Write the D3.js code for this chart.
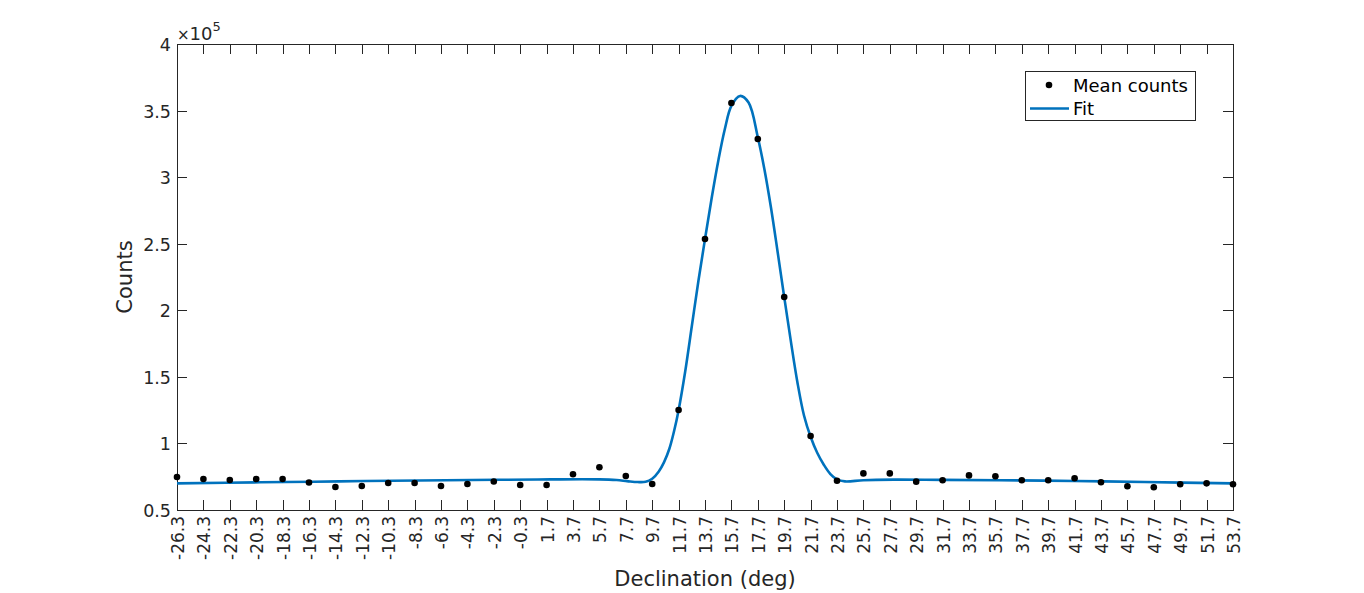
<!DOCTYPE html>
<html><head><meta charset="utf-8">
<script src="https://cdn.jsdelivr.net/npm/d3@7"></script>
<style>body{margin:0;background:#fff;} svg{display:block;font-family:"DejaVu Sans",sans-serif;}</style>
</head><body>
<svg id="c" width="1364" height="593"></svg>
<script>
const declination = [-26.3,-24.3,-22.3,-20.3,-18.3,-16.3,-14.3,-12.3,-10.3,-8.3,-6.3,-4.3,-2.3,-0.3,1.7,3.7,5.7,7.7,9.7,11.7,13.7,15.7,17.7,19.7,21.7,23.7,25.7,27.7,29.7,31.7,33.7,35.7,37.7,39.7,41.7,43.7,45.7,47.7,49.7,51.7,53.7];
const meanCounts = [0.748,0.733,0.725,0.733,0.733,0.707,0.673,0.680,0.703,0.703,0.680,0.695,0.714,0.688,0.688,0.768,0.821,0.755,0.695,1.251,2.535,3.557,3.287,2.100,1.056,0.720,0.775,0.775,0.713,0.723,0.760,0.753,0.723,0.723,0.738,0.708,0.678,0.671,0.693,0.700,0.693];
const fitX = [-26.3,-20,-14,-8,-2,2,5.7,7.0,7.8,8.6,9.2,9.7,10.2,10.6,11.0,11.35,11.7,12.2,12.7,13.2,13.7,14.2,14.7,15.2,15.7,16.35,17.0,17.7,18.2,18.7,19.2,19.7,20.2,20.7,21.2,21.7,22.2,22.7,23.2,23.7,24.3,25.7,28,31.7,36,41.7,47,53.7];
const fitY = [0.700,0.708,0.715,0.722,0.727,0.730,0.730,0.725,0.717,0.710,0.712,0.735,0.790,0.860,0.960,1.090,1.250,1.540,1.880,2.220,2.535,2.840,3.120,3.360,3.535,3.610,3.560,3.300,3.060,2.770,2.440,2.100,1.770,1.460,1.210,1.050,0.930,0.840,0.770,0.730,0.715,0.724,0.728,0.726,0.724,0.718,0.710,0.700];
const yTicks = [0.5,1,1.5,2,2.5,3,3.5,4];
const xLabel = "Declination (deg)", yLabel = "Counts";
const legendLabels = ["Mean counts","Fit"];

const svg = d3.select("#c");
const L=177,R=1233,T=44,B=510;
const ink="#262626", blue="#0072BD";
const x = d3.scaleLinear().domain([-26.3,53.7]).range([L,R]);
const y = d3.scaleLinear().domain([0.5,4]).range([B,T]);

svg.append("rect").attr("x",L+0.5).attr("y",T+0.5).attr("width",R-L).attr("height",B-T)
  .attr("fill","none").attr("stroke",ink).attr("stroke-width",1);

const tl=10;
const g = svg.append("g");
declination.forEach(d=>{
  const px=Math.round(x(d))+0.5;
  g.append("line").attr("x1",px).attr("x2",px).attr("y1",B).attr("y2",B-tl).attr("stroke",ink);
  g.append("line").attr("x1",px).attr("x2",px).attr("y1",T).attr("y2",T+tl).attr("stroke",ink);
  g.append("text").attr("transform",`translate(${px+6},${B+6}) rotate(-90)`)
    .attr("text-anchor","end").attr("font-size",17).attr("fill",ink).text(d.toFixed(1));
});
yTicks.forEach(v=>{
  const py=Math.round(y(v))+0.5;
  g.append("line").attr("x1",L).attr("x2",L+tl).attr("y1",py).attr("y2",py).attr("stroke",ink);
  g.append("line").attr("x1",R).attr("x2",R-tl).attr("y1",py).attr("y2",py).attr("stroke",ink);
  g.append("text").attr("x",L-6).attr("y",py+6).attr("text-anchor","end")
    .attr("font-size",17.5).attr("fill",ink).text(d3.format("~g")(v));
});
const ex = svg.append("text").attr("x",L).attr("y",T-4).attr("fill",ink).attr("font-size",18);
ex.append("tspan").attr("font-size",15).text("\u00d7");
ex.append("tspan").text("10");
ex.append("tspan").attr("font-size",13).attr("dy",-9).text("5");

svg.append("text").attr("x",(L+R)/2).attr("y",586).attr("text-anchor","middle")
  .attr("font-size",21).attr("fill",ink).text(xLabel);
svg.append("text").attr("transform",`translate(132,${(T+B)/2}) rotate(-90)`).attr("text-anchor","middle")
  .attr("font-size",21).attr("fill",ink).text(yLabel);

const line = d3.line().x((d,i)=>x(fitX[i])).y(d=>y(d)).curve(d3.curveCatmullRom.alpha(0.5));
svg.append("path").attr("d",line(fitY)).attr("fill","none").attr("stroke",blue).attr("stroke-width",2.6);

svg.append("g").selectAll("circle").data(meanCounts).join("circle")
  .attr("cx",(d,i)=>x(declination[i])).attr("cy",d=>y(d)).attr("r",3.3).attr("fill","#000");

const lg = svg.append("g");
lg.append("rect").attr("x",1025.5).attr("y",71.5).attr("width",170).attr("height",49)
  .attr("fill","#fff").attr("stroke",ink);
lg.append("circle").attr("cx",1049).attr("cy",85).attr("r",3.3).attr("fill","#000");
lg.append("line").attr("x1",1030).attr("x2",1069).attr("y1",108.5).attr("y2",108.5).attr("stroke",blue).attr("stroke-width",2.6);
lg.append("text").attr("x",1073).attr("y",91.5).attr("font-size",18).attr("fill","#000").text(legendLabels[0]);
lg.append("text").attr("x",1073).attr("y",114.5).attr("font-size",18).attr("fill","#000").text(legendLabels[1]);
</script>
</body></html>
